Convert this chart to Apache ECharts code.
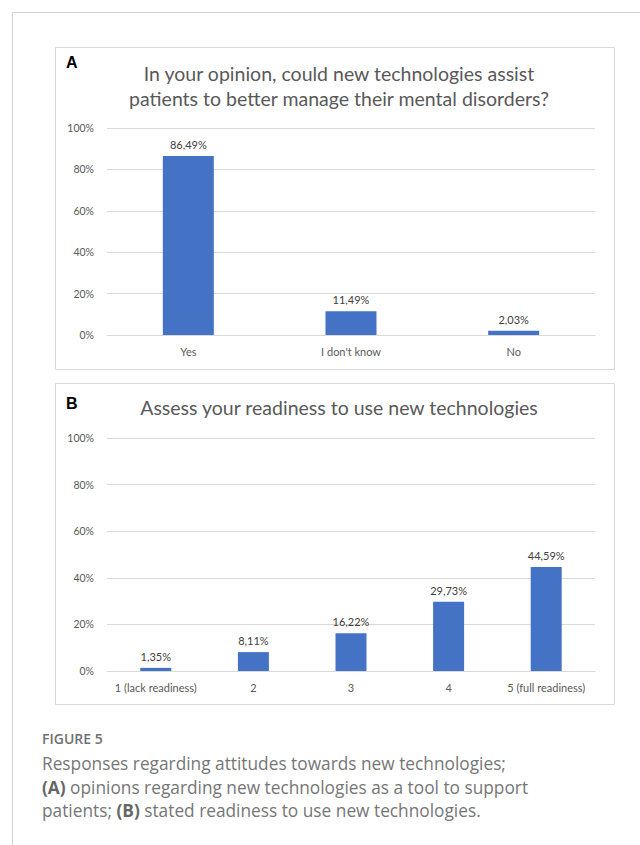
<!DOCTYPE html>
<html>
<head>
	<meta charset="utf-8">
	<title>Figure 5</title>
	<script src="https://cdn.jsdelivr.net/npm/echarts@6/dist/echarts.min.js"></script>
	<style>
		html, body { margin: 0; padding: 0; background: #fff; }
		#main { width: 640px; height: 845px; }
	</style>
</head>
<body>
	<div id="main"></div>
	<script type="text/javascript">
		// panel A: could new technologies help
		var catsA = ['Yes', "I don't know", 'No'];
		var valsA = [86.49, 11.49, 2.03];
		// panel B: readiness
		var catsB = ['1 (lack readiness)', '2', '3', '4', '5 (full readiness)'];
		var valsB = [1.35, 8.11, 16.22, 29.73, 44.59];
		var yTicks = [0, 20, 40, 60, 80, 100];

		var barColor = '#4472C4';
		var gridColor = '#d9d9d9';
		var txt = '#595959';
		var chartFont = 'Lato';

		// 86.49 -> "86,49%"
		function pct(v) {
			return v.toFixed(2).replace('.', ',') + '%';
		}

		var myChart = echarts.init(document.getElementById('main'), null, { renderer: 'svg' });

		function yAxisOf(gridIndex) {
			return {
				type: 'value',
				gridIndex: gridIndex,
				min: yTicks[0],
				max: yTicks[yTicks.length - 1],
				interval: yTicks[1] - yTicks[0],
				axisLabel: { formatter: '{value}%', color: txt, fontSize: 10.5, fontFamily: chartFont, margin: 13 },
				splitLine: { lineStyle: { color: gridColor, width: 1 } },
				axisLine: { show: false },
				axisTick: { show: false }
			};
		}

		function xAxisOf(gridIndex, cats) {
			return {
				type: 'category',
				gridIndex: gridIndex,
				data: cats,
				axisLine: { lineStyle: { color: gridColor } },
				axisTick: { show: false },
				axisLabel: { color: txt, fontSize: 11, fontFamily: chartFont, margin: 11, interval: 0 }
			};
		}

		var valLabel = {
			show: true, position: 'top', distance: 6, color: '#404040', fontSize: 11, fontFamily: chartFont,
			formatter: function (p) { return pct(p.value); }
		};

		var options = {
			animation: false,
			textStyle: { fontFamily: chartFont },
			title: [
				{
					text: 'In your opinion, could new technologies assist\npatients to better manage their mental disorders?',
					left: 334, top: 56, textAlign: 'center',
					textStyle: { fontSize: 19.5, fontWeight: 'normal', color: txt, lineHeight: 25, fontFamily: chartFont }
				},
				{
					text: 'Assess your readiness to use new technologies',
					left: 334, top: 392, textAlign: 'center',
					textStyle: { fontSize: 19.5, fontWeight: 'normal', color: txt, fontFamily: chartFont }
				}
			],
			grid: [
				{ left: 107, right: 45, top: 128, bottom: 510 },
				{ left: 107, right: 45, top: 438, bottom: 174 }
			],
			xAxis: [xAxisOf(0, catsA), xAxisOf(1, catsB)],
			yAxis: [yAxisOf(0), yAxisOf(1)],
			series: [
				{
					type: 'bar', xAxisIndex: 0, yAxisIndex: 0,
					data: valsA, barWidth: 51,
					itemStyle: { color: barColor },
					label: valLabel
				},
				{
					type: 'bar', xAxisIndex: 1, yAxisIndex: 1,
					data: valsB, barWidth: 31,
					itemStyle: { color: barColor },
					label: valLabel
				}
			],
			graphic: [
				// page border
				{ type: 'line', shape: { x1: 12.5, y1: 12.5, x2: 640, y2: 12.5 }, style: { stroke: '#d0d0d0', lineWidth: 1 } },
				{ type: 'line', shape: { x1: 12.5, y1: 12.5, x2: 12.5, y2: 845 }, style: { stroke: '#d0d0d0', lineWidth: 1 } },
				// panel boxes
				{ type: 'rect', shape: { x: 55.5, y: 47.5, width: 559, height: 322 }, style: { fill: 'none', stroke: '#d9d9d9', lineWidth: 1 }, z: -1 },
				{ type: 'rect', shape: { x: 55.5, y: 383.5, width: 559, height: 321 }, style: { fill: 'none', stroke: '#d9d9d9', lineWidth: 1 }, z: -1 },
				// panel letters
				{ type: 'text', left: 66, top: 54, style: { text: 'A', font: 'bold 16px "Liberation Sans"', fill: '#000' } },
				{ type: 'text', left: 66, top: 395, style: { text: 'B', font: 'bold 16px "Liberation Sans"', fill: '#000' } },
				// caption
				{ type: 'text', left: 42, top: 731, style: { text: 'FIGURE 5', font: '600 14px "Open Sans"', fill: '#707070' } },
				{
					type: 'text', left: 42, top: 752,
					style: {
						text: 'Responses regarding attitudes towards new technologies;\n{b|(A)} opinions regarding new technologies as a tool to support\npatients; {b|(B)} stated readiness to use new technologies.',
						font: '17.3px "Open Sans"', fill: '#767676', lineHeight: 23.5,
						rich: { b: { fontWeight: 'bold', fontSize: 17.3, fontFamily: 'Open Sans', fill: '#666', lineHeight: 23.5 } }
					}
				}
			]
		};

		myChart.setOption(options);
	</script>
</body>
</html>
